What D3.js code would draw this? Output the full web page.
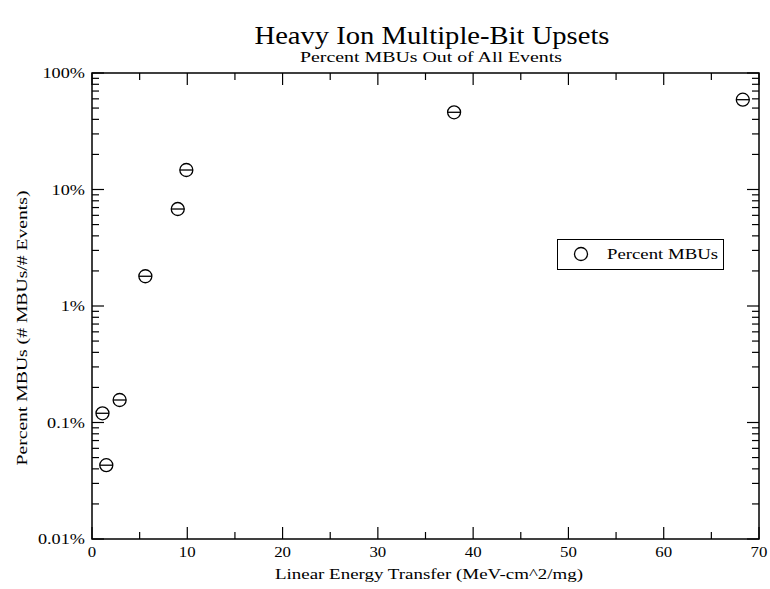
<!DOCTYPE html>
<html><head><meta charset="utf-8">
<script src="https://cdn.jsdelivr.net/npm/d3@7"></script>
<style>body{margin:0;background:#fff}svg{display:block}text{font-family:"Liberation Serif","DejaVu Serif",serif;fill:#000}</style>
</head><body><svg id="c" width="770" height="589"></svg>
<script>
const letValues = [1.1, 1.5, 2.9, 5.6, 9.0, 9.9, 38.0, 68.3];
const mbuPercent = [0.12, 0.043, 0.156, 1.8, 6.8, 14.7, 46, 59];
const xTicks = [0, 10, 20, 30, 40, 50, 60, 70];
const yTicks = [0.01, 0.1, 1, 10, 100];
const yTickLabels = ["0.01%", "0.1%", "1%", "10%", "100%"];
const titleText = "Heavy Ion Multiple-Bit Upsets";
const subtitleText = "Percent MBUs Out of All Events";
const xLabel = "Linear Energy Transfer (MeV-cm^2/mg)";
const yLabel = "Percent MBUs (# MBUs/# Events)";
const legendLabel = "Percent MBUs";

const svg = d3.select("#c");
const L = 92, R = 759, T = 73, B = 539;
const x = d3.scaleLinear().domain([0, 70]).range([L, R]);
const y = d3.scaleLog().domain([0.01, 100]).range([B, T]);

// stretch text horizontally to a width (reference font renders wider)
function widen(sel, target) {
  sel.each(function () {
    const w = this.getComputedTextLength();
    const t = typeof target === "function" ? target(w) : target;
    d3.select(this).attr("textLength", t).attr("lengthAdjust", "spacingAndGlyphs");
  });
}

widen(svg.append("text").attr("x", 432).attr("y", 44).attr("text-anchor", "middle")
  .style("font-size", "26px").text(titleText), 355);
widen(svg.append("text").attr("x", 431).attr("y", 62).attr("text-anchor", "middle")
  .style("font-size", "15px").text(subtitleText), 262);

const g = svg.append("g");
const xMinor = d3.range(5, 70, 10);
function xTickLines(vals, len) {
  g.selectAll(null).data(vals).enter().append("line")
    .attr("x1", d => x(d)).attr("x2", d => x(d)).attr("y1", B).attr("y2", B - len)
    .attr("stroke", "#000").attr("stroke-width", 1.2);
  g.selectAll(null).data(vals).enter().append("line")
    .attr("x1", d => x(d)).attr("x2", d => x(d)).attr("y1", T).attr("y2", T + len)
    .attr("stroke", "#000").attr("stroke-width", 1.2);
}
xTickLines(xTicks, 12);
xTickLines(xMinor, 7);
const yMinor = [];
[0.01, 0.1, 1, 10].forEach(dec => { for (let k = 2; k <= 9; k++) yMinor.push(dec * k); });
function yTickLines(vals, len) {
  g.selectAll(null).data(vals).enter().append("line")
    .attr("x1", L).attr("x2", L + len).attr("y1", d => y(d)).attr("y2", d => y(d))
    .attr("stroke", "#000").attr("stroke-width", 1.2);
  g.selectAll(null).data(vals).enter().append("line")
    .attr("x1", R).attr("x2", R - len).attr("y1", d => y(d)).attr("y2", d => y(d))
    .attr("stroke", "#000").attr("stroke-width", 1.2);
}
yTickLines(yTicks, 12);
yTickLines(yMinor, 7);
g.append("rect").attr("x", L).attr("y", T).attr("width", R - L).attr("height", B - T)
  .attr("fill", "none").attr("stroke", "#000").attr("stroke-width", 1.5);

widen(g.selectAll(null).data(xTicks).enter().append("text")
  .attr("x", d => x(d)).attr("y", B + 18).attr("text-anchor", "middle")
  .style("font-size", "15px").text(d => d), w => w * 1.12);
widen(g.selectAll(null).data(yTicks).enter().append("text")
  .attr("x", L - 7).attr("y", d => y(d) + 5).attr("text-anchor", "end")
  .style("font-size", "14px").text((d, i) => yTickLabels[i]), w => w * 1.3);

widen(svg.append("text").attr("x", 429).attr("y", 579).attr("text-anchor", "middle")
  .style("font-size", "15px").text(xLabel), 308);
widen(svg.append("text").attr("transform", "translate(27,328) rotate(-90)")
  .attr("text-anchor", "middle").style("font-size", "15px").text(yLabel), 275);

const pts = svg.append("g").selectAll("g").data(letValues.map((v, i) => [v, mbuPercent[i]]))
  .enter().append("g").attr("transform", d => `translate(${x(d[0])},${y(d[1])})`);
pts.append("circle").attr("r", 6.5).attr("fill", "none").attr("stroke", "#000").attr("stroke-width", 1.3);
pts.append("line").attr("x1", -6.5).attr("x2", 6.5).attr("y1", 0).attr("y2", 0)
  .attr("stroke", "#000").attr("stroke-width", 1.3);

const lg = svg.append("g");
lg.append("rect").attr("x", 557.5).attr("y", 239.5).attr("width", 166).attr("height", 30)
  .attr("fill", "#fff").attr("stroke", "#000").attr("stroke-width", 1);
lg.append("circle").attr("cx", 581).attr("cy", 254).attr("r", 6.5)
  .attr("fill", "none").attr("stroke", "#000").attr("stroke-width", 1.3);
widen(lg.append("text").attr("x", 607).attr("y", 259).style("font-size", "15px").text(legendLabel), 111);
</script></body></html>
